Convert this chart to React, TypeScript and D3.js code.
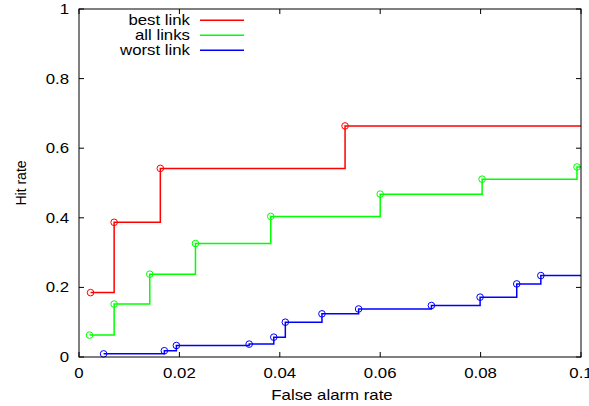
import React from 'react';
import * as d3 from 'd3';

// values (false alarm rate, hit rate)
const bestX = [0.0023, 0.0070, 0.0162, 0.0530];
const bestY = [0.185, 0.387, 0.542, 0.664];
const allX = [0.0021, 0.0070, 0.0141, 0.0232, 0.0382, 0.0600, 0.0803, 0.0992];
const allY = [0.063, 0.152, 0.238, 0.326, 0.404, 0.468, 0.511, 0.546];
const worstX = [0.0049, 0.0170, 0.0194, 0.0339, 0.0388, 0.0411, 0.0484, 0.0557, 0.0702, 0.0799, 0.0872, 0.0920];
const worstY = [0.009, 0.018, 0.033, 0.037, 0.057, 0.100, 0.124, 0.138, 0.148, 0.172, 0.210, 0.234];
const xTicks = [0, 0.02, 0.04, 0.06, 0.08, 0.1];
const yTicks = [0, 0.2, 0.4, 0.6, 0.8, 1];
const seriesNames = ['best link', 'all links', 'worst link'];
const seriesColors = ['#ff0000', '#00ff00', '#0000ff'];

const W = 589;
const H = 406;
const margin = { top: 9, right: 8, bottom: 49, left: 79 };

// gnuplot's text looks like 14px helvetica stretched a bit sideways
const Label = (props: { x: number; y: number; anchor?: string; children: any }) => (
	<text
		transform={`translate(${props.x}, ${props.y}) scale(1.2, 1)`}
		textAnchor={props.anchor || 'start'}
		fontSize={14}
		fill="#000"
	>
		{props.children}
	</text>
);

function App() {
	const x = d3.scaleLinear().domain([0, 0.1]).range([margin.left, W - margin.right]);
	const y = d3.scaleLinear().domain([0, 1]).range([H - margin.bottom, margin.top]);

	const series = [
		bestX.map((v, i) => [v, bestY[i]]),
		allX.map((v, i) => [v, allY[i]]),
		worstX.map((v, i) => [v, worstY[i]]),
	];

	const line = d3
		.line<number[]>()
		.x((d) => x(d[0]))
		.y((d) => y(d[1]))
		.curve(d3.curveStepAfter);

	const font = '"Liberation Sans", Arial, sans-serif';
	const x0 = margin.left;
	const x1 = W - margin.right;
	const y0 = H - margin.bottom;
	const y1 = margin.top;
	const tick = 5;

	return (
		<div style={{ position: 'fixed', left: 0, top: 0 }}>
			<svg width={W} height={H} style={{ display: 'block', background: '#fff' }} fontFamily={font}>
				{/* Lines */}
				{series.map((pts, k) => {
					const last = pts[pts.length - 1];
					const ext = [...pts, [0.1, last[1]]];
					return (
						<g key={k}>
							<path d={line(ext) || ''} fill="none" stroke={seriesColors[k]} strokeWidth={1.5} />
							{pts.map((p, i) => (
								<circle key={i} cx={x(p[0])} cy={y(p[1])} r={3.3} fill="none" stroke={seriesColors[k]} strokeWidth={1} />
							))}
						</g>
					);
				})}

				{/* Frame and ticks */}
				<rect x={x0} y={y1} width={x1 - x0} height={y0 - y1} fill="none" stroke="#000" strokeWidth={1} />
				{xTicks.map((t) => (
					<g key={'x' + t}>
						<line x1={x(t)} x2={x(t)} y1={y0} y2={y0 - tick} stroke="#000" />
						<line x1={x(t)} x2={x(t)} y1={y1} y2={y1 + tick} stroke="#000" />
						<Label x={x(t)} y={y0 + 21} anchor="middle">
							{d3.format('')(t)}
						</Label>
					</g>
				))}
				{yTicks.map((t) => (
					<g key={'y' + t}>
						<line x1={x0} x2={x0 + tick} y1={y(t)} y2={y(t)} stroke="#000" />
						<line x1={x1} x2={x1 - tick} y1={y(t)} y2={y(t)} stroke="#000" />
						<Label x={x0 - 10} y={y(t) + 5} anchor="end">
							{d3.format('')(t)}
						</Label>
					</g>
				))}

				{/* Axis labels */}
				<Label x={332} y={400} anchor="middle">
					False alarm rate
				</Label>
				<text transform={`translate(26, ${(y0 + y1) / 2}) rotate(-90)`} textAnchor="middle" fontSize={14} fill="#000">
					Hit rate
				</text>

				{/* Legend */}
				{seriesNames.map((name, i) => {
					const ly = 20.3 + i * 15;
					return (
						<g key={name}>
							<Label x={190} y={ly + 4.5} anchor="end">
								{name}
							</Label>
							<line x1={200} x2={244} y1={ly} y2={ly} stroke={seriesColors[i]} strokeWidth={1.5} />
						</g>
					);
				})}
			</svg>
		</div>
	);
}

export default App;
